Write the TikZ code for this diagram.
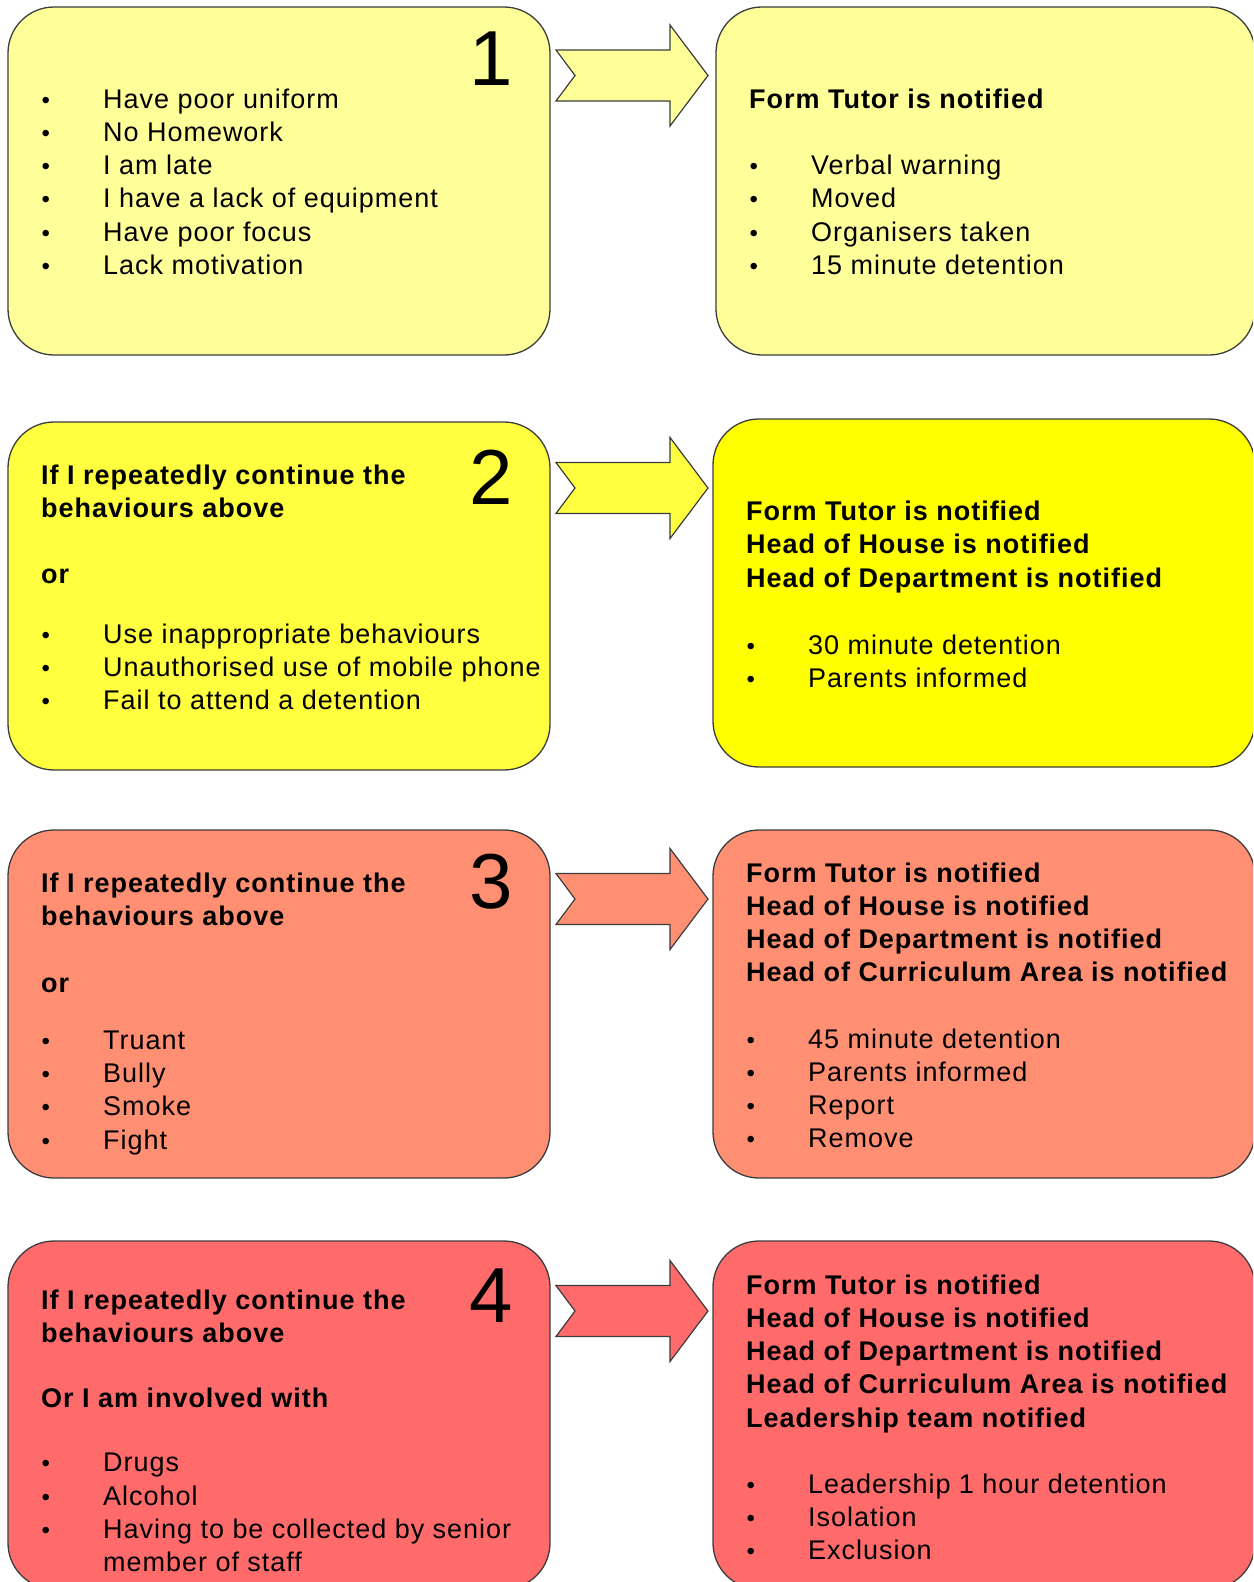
\documentclass[tikz,border=0pt]{standalone}
\usepackage{fontspec}
\setmainfont{Liberation Sans}[LetterSpace=3.6]
\newfontfamily\numfont{Liberation Sans}
\definecolor{cA}{HTML}{FFFF99}
\definecolor{cBl}{HTML}{FFFF40}
\definecolor{cBr}{HTML}{FFFF00}
\definecolor{cC}{HTML}{FF8F73}
\definecolor{cD}{HTML}{FF6B6B}
\definecolor{edgec}{HTML}{3C3C3C}
\newcommand\itm[1]{\makebox[62pt][l]{\hspace*{0.5pt}{\numfont\fontsize{24}{24}\selectfont\textbullet}}#1}
\newcommand\blockarrow[3]{%
  \draw[arrowshape, fill=#2] (#3) (556,{#1-25.5}) -- (670,{#1-25.5}) -- (670,{#1-50.5}) -- (708,#1)
    -- (670,{#1+50.5}) -- (670,{#1+25.5}) -- (556,{#1+25.5}) -- (575,#1) -- cycle;}
\tikzset{
  box/.style={draw=edgec, line width=1.3pt, rounded corners=46pt, rectangle, inner sep=0pt},
  txt/.style={anchor=north west, inner sep=0pt, align=left, font=\fontsize{27}{33.2}\selectfont},
  num/.style={inner sep=0pt, font=\numfont\fontsize{78}{80}\selectfont},
  arrowshape/.style={draw=edgec, line width=1.2pt, line join=miter},
}
\begin{document}
\begin{tikzpicture}[x=1pt, y=-1pt]
\useasboundingbox (0,0) rectangle (1253,1582);
\clip (0,0) rectangle (1253,1582);
\fill[white] (0,0) rectangle (1253,1582);

% Row 1
\node[box, fill=cA, minimum width=542pt, minimum height=348pt] (L1) at (279,181) {};
\node[box, fill=cA, minimum width=539pt, minimum height=348pt] (R1) at (985.5,181) {};
\coordinate (a1) at (556,75.5);
\blockarrow{75.5}{cA}{a1}
\node[num] (n1) at (491,59) {1};
\node[txt] (t1) at (41,83) {\rule{0pt}{25pt}\itm{Have poor uniform}\\
\itm{No Homework}\\
\itm{I am late}\\
\itm{I have a lack of equipment}\\
\itm{Have poor focus}\\
\itm{Lack motivation}};
\node[txt] (s1) at (749,83) {\rule{0pt}{25pt}\textbf{Form Tutor is notified}\\[33.3pt]
\itm{Verbal warning}\\
\itm{Moved}\\
\itm{Organisers taken}\\
\itm{15 minute detention}};

% Row 2
\node[box, fill=cBl, minimum width=542pt, minimum height=348pt] (L2) at (279,596) {};
\node[box, fill=cBr, minimum width=542pt, minimum height=348pt] (R2) at (984,593) {};
\coordinate (a2) at (556,488);
\blockarrow{488}{cBl}{a2}
\node[num] (n2) at (491,477) {2};
\node[txt] (t2) at (41,459) {\rule{0pt}{25pt}\textbf{If I repeatedly continue the}\\
\textbf{behaviours above}\\[33.3pt]
\textbf{or}\\[26.3pt]
\itm{Use inappropriate behaviours}\\
\itm{Unauthorised use of mobile phone}\\
\itm{Fail to attend a detention}};
\node[txt] (s2) at (746,495.5) {\rule{0pt}{25pt}\textbf{Form Tutor is notified}\\
\textbf{Head of House is notified}\\
\textbf{Head of Department is notified}\\[33.8pt]
\itm{30 minute detention}\\
\itm{Parents informed}};

% Row 3
\node[box, fill=cC, minimum width=542pt, minimum height=348pt] (L3) at (279,1004) {};
\node[box, fill=cC, minimum width=542pt, minimum height=348pt] (R3) at (984,1004) {};
\coordinate (a3) at (556,899);
\blockarrow{899}{cC}{a3}
\node[num] (n3) at (491,882) {3};
\node[txt] (t3) at (41,867) {\rule{0pt}{25pt}\textbf{If I repeatedly continue the}\\
\textbf{behaviours above}\\[33.8pt]
\textbf{or}\\[23.8pt]
\itm{Truant}\\
\itm{Bully}\\
\itm{Smoke}\\
\itm{Fight}};
\node[txt] (s3) at (746,857) {\rule{0pt}{25pt}\textbf{Form Tutor is notified}\\
\textbf{Head of House is notified}\\
\textbf{Head of Department is notified}\\
\textbf{Head of Curriculum Area is notified}\\[33.2pt]
\itm{45 minute detention}\\
\itm{Parents informed}\\
\itm{Report}\\
\itm{Remove}};

% Row 4
\node[box, fill=cD, minimum width=542pt, minimum height=348pt] (L4) at (279,1415) {};
\node[box, fill=cD, minimum width=542pt, minimum height=348pt] (R4) at (984,1415) {};
\coordinate (a4) at (556,1311);
\blockarrow{1311}{cD}{a4}
\node[num] (n4) at (491,1296) {4};
\node[txt] (t4) at (41,1284.5) {\rule{0pt}{25pt}\textbf{If I repeatedly continue the}\\
\textbf{behaviours above}\\[31.8pt]
\textbf{Or I am involved with}\\[30.8pt]
\itm{Drugs}\\
\itm{Alcohol}\\
\itm{Having to be collected by senior}\\
\hspace*{62pt}member of staff};
\node[txt] (s4) at (746,1269) {\rule{0pt}{25pt}\textbf{Form Tutor is notified}\\
\textbf{Head of House is notified}\\
\textbf{Head of Department is notified}\\
\textbf{Head of Curriculum Area is notified}\\
\textbf{Leadership team notified}\\[33.2pt]
\itm{Leadership 1 hour detention}\\
\itm{Isolation}\\
\itm{Exclusion}};
\end{tikzpicture}
\end{document}
